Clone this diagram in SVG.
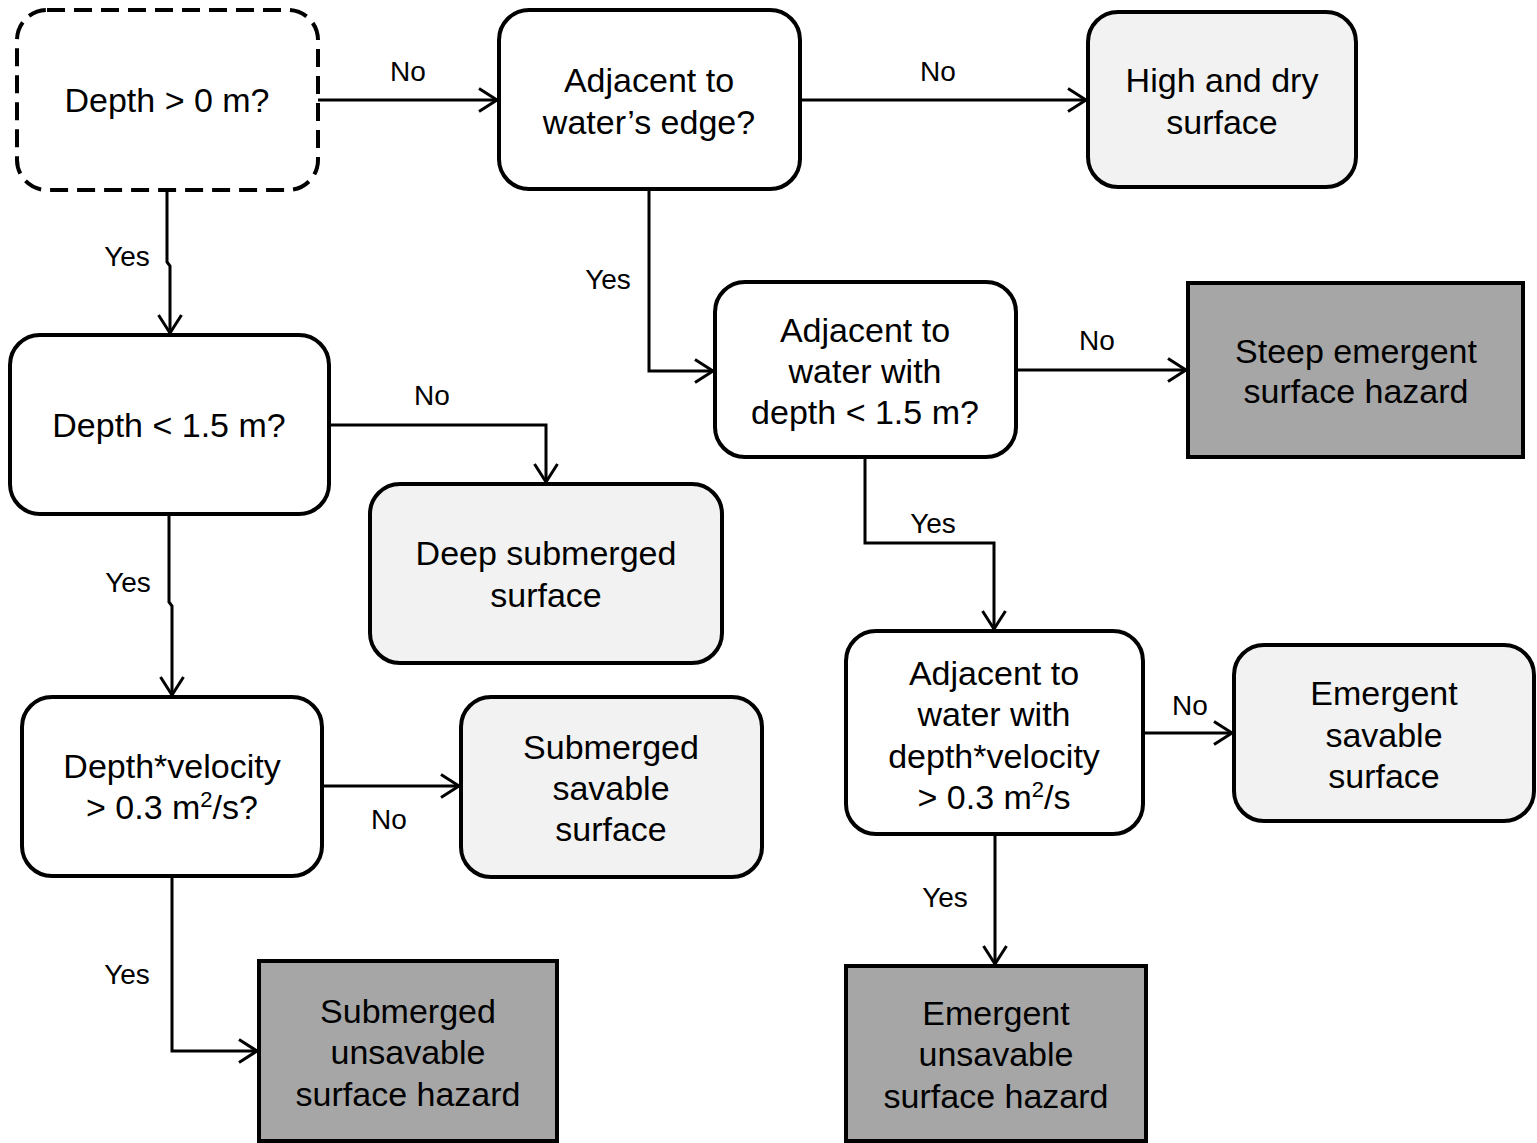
<svg xmlns="http://www.w3.org/2000/svg" width="1537" height="1143" viewBox="0 0 1537 1143">
<defs>
<style>
.n{stroke:#000;stroke-width:4;fill:#fff}
.d{stroke-dasharray:18 9}
.lt{fill:#f2f2f2}
.dk{fill:#a6a6a6}
.t{font-family:"Liberation Sans",Arial,sans-serif;font-size:34px;fill:#000;text-anchor:middle}
.l{font-family:"Liberation Sans",Arial,sans-serif;font-size:28px;fill:#000;text-anchor:middle}
.c{fill:none;stroke:#000;stroke-width:3}
</style>
<marker id="ah" markerUnits="userSpaceOnUse" markerWidth="24" markerHeight="28" refX="20" refY="13" orient="auto" viewBox="0 0 24 26">
<polyline points="2,1.5 20,13 2,24.5" fill="none" stroke="#000" stroke-width="3"/>
</marker>
</defs>
<rect width="1537" height="1143" fill="#fff"/>
<g id="connectors">
<path class="c" d="M318 100 H497" marker-end="url(#ah)"/>
<path class="c" d="M800 100 H1086" marker-end="url(#ah)"/>
<path class="c" d="M167 190 V262 L170 266 V333" marker-end="url(#ah)"/>
<path class="c" d="M329 425 H546 V482" marker-end="url(#ah)"/>
<path class="c" d="M169 514 V602 L172 606 V695" marker-end="url(#ah)"/>
<path class="c" d="M322 786 H459" marker-end="url(#ah)"/>
<path class="c" d="M172 876 V1051 H257" marker-end="url(#ah)"/>
<path class="c" d="M649 189 V371 H713" marker-end="url(#ah)"/>
<path class="c" d="M1016 370 H1186" marker-end="url(#ah)"/>
<path class="c" d="M865 457 V543 H994 V629" marker-end="url(#ah)"/>
<path class="c" d="M1143 733 H1232" marker-end="url(#ah)"/>
<path class="c" d="M995 834 V964" marker-end="url(#ah)"/>
<text class="l" x="408" y="81">No</text>
<text class="l" x="938" y="81">No</text>
<text class="l" x="127" y="266">Yes</text>
<text class="l" x="432" y="405">No</text>
<text class="l" x="128" y="592">Yes</text>
<text class="l" x="389" y="829">No</text>
<text class="l" x="127" y="984">Yes</text>
<text class="l" x="608" y="289">Yes</text>
<text class="l" x="1097" y="350">No</text>
<text class="l" x="933" y="533">Yes</text>
<text class="l" x="1190" y="715">No</text>
<text class="l" x="945" y="907">Yes</text>
</g>
<g id="n1">
<rect class="n d" x="17" y="10" width="301" height="180" rx="30"/>
<text class="t" x="167" y="112">Depth &gt; 0 m?</text>
</g>
<g id="n2">
<rect class="n" x="499" y="10" width="301" height="179" rx="30"/>
<text class="t" x="649" y="92">Adjacent to</text>
<text class="t" x="649" y="134">water’s edge?</text>
</g>
<g id="n3">
<rect class="n lt" x="1088" y="12" width="268" height="175" rx="30"/>
<text class="t" x="1222" y="92">High and dry</text>
<text class="t" x="1222" y="134">surface</text>
</g>
<g id="n4">
<rect class="n" x="10" y="335" width="319" height="179" rx="30"/>
<text class="t" x="169" y="437">Depth &lt; 1.5 m?</text>
</g>
<g id="n5">
<rect class="n lt" x="370" y="484" width="352" height="179" rx="30"/>
<text class="t" x="546" y="565">Deep submerged</text>
<text class="t" x="546" y="607">surface</text>
</g>
<g id="n6">
<rect class="n" x="22" y="697" width="300" height="179" rx="30"/>
<text class="t" x="172" y="778">Depth*velocity</text>
<text class="t" x="172" y="819">&gt; 0.3 m<tspan font-size="22" dy="-12">2</tspan><tspan dy="12">/s?</tspan></text>
</g>
<g id="n7">
<rect class="n lt" x="461" y="697" width="301" height="180" rx="30"/>
<text class="t" x="611" y="759">Submerged</text>
<text class="t" x="611" y="800">savable</text>
<text class="t" x="611" y="841">surface</text>
</g>
<g id="n8">
<rect class="n dk" x="259" y="961" width="298" height="180"/>
<text class="t" x="408" y="1023">Submerged</text>
<text class="t" x="408" y="1064">unsavable</text>
<text class="t" x="408" y="1106">surface hazard</text>
</g>
<g id="n9">
<rect class="n" x="715" y="282" width="301" height="175" rx="30"/>
<text class="t" x="865" y="342">Adjacent to</text>
<text class="t" x="865" y="383">water with</text>
<text class="t" x="865" y="424">depth &lt; 1.5 m?</text>
</g>
<g id="n10">
<rect class="n dk" x="1188" y="283" width="335" height="174"/>
<text class="t" x="1356" y="363">Steep emergent</text>
<text class="t" x="1356" y="403">surface hazard</text>
</g>
<g id="n11">
<rect class="n" x="846" y="631" width="297" height="203" rx="30"/>
<text class="t" x="994" y="685">Adjacent to</text>
<text class="t" x="994" y="726">water with</text>
<text class="t" x="994" y="768">depth*velocity</text>
<text class="t" x="994" y="809">&gt; 0.3 m<tspan font-size="22" dy="-12">2</tspan><tspan dy="12">/s</tspan></text>
</g>
<g id="n12">
<rect class="n lt" x="1234" y="645" width="300" height="176" rx="30"/>
<text class="t" x="1384" y="705">Emergent</text>
<text class="t" x="1384" y="747">savable</text>
<text class="t" x="1384" y="788">surface</text>
</g>
<g id="n13">
<rect class="n dk" x="846" y="966" width="300" height="175"/>
<text class="t" x="996" y="1025">Emergent</text>
<text class="t" x="996" y="1066">unsavable</text>
<text class="t" x="996" y="1108">surface hazard</text>
</g>
</svg>
